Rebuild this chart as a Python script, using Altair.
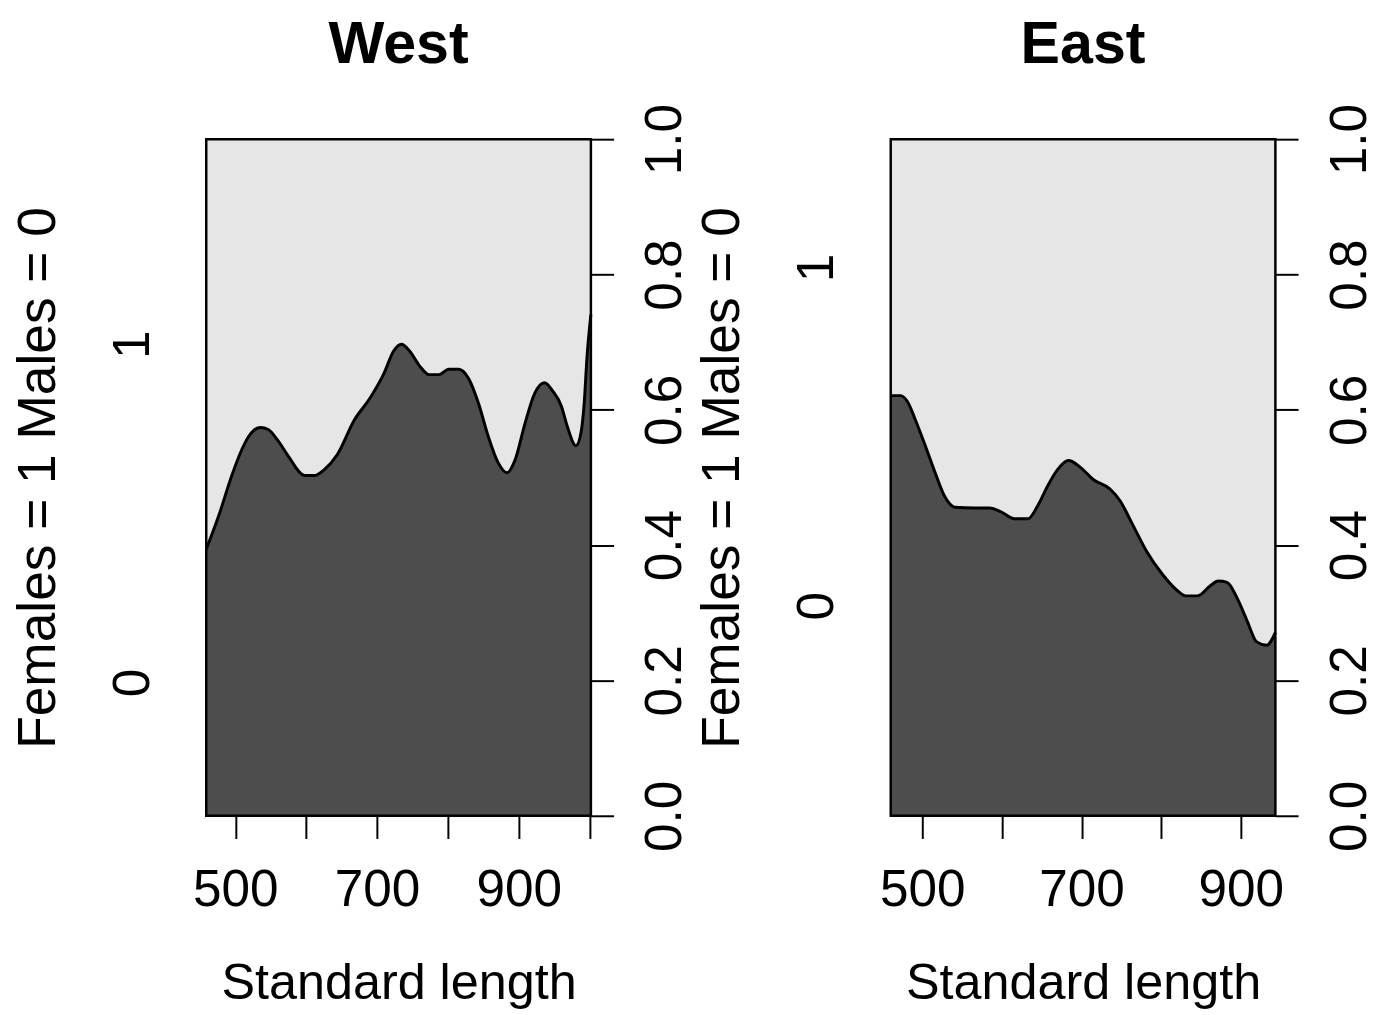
import altair as alt
import pandas as pd

# ---- data (conditional density of the "0" class) ----
west_len = [458.9, 477, 495, 509, 519, 535.5, 546.5, 560.5, 574.5, 598, 612, 626, 644, 668,
            690, 709.5, 723.5, 734.5, 746, 760, 773.5, 787.5, 801.5, 815.5, 829.5, 843.5,
            857, 871, 883.5, 895, 909, 922.5, 936.5, 948, 960.5, 968.5, 981, 988, 992.5,
            996.5, 1002]
west_p = [0.394, 0.445, 0.503, 0.541, 0.561, 0.574, 0.571, 0.554, 0.532, 0.503, 0.503, 0.512,
          0.534, 0.585, 0.617, 0.653, 0.687, 0.697, 0.687, 0.665, 0.652, 0.652, 0.660, 0.660,
          0.646, 0.609, 0.561, 0.522, 0.507, 0.526, 0.580, 0.624, 0.640, 0.628, 0.605, 0.576,
          0.547, 0.566, 0.609, 0.678, 0.741]
east_len = [460.3, 472.7, 481.4, 491.3, 503.7, 516.1, 528.5, 540.9, 565.8, 584.4, 599.3, 615.4,
            632.8, 645.2, 657.6, 670.0, 683.6, 698.5, 714.6, 735.7, 748.1, 764.3, 781.6, 801.5,
            818.2, 830.8, 845.5, 861.7, 871.6, 882.8, 895.2, 907.6, 920.0, 932.4, 943.4]
east_p = [0.621, 0.621, 0.612, 0.585, 0.547, 0.507, 0.471, 0.456, 0.455, 0.455, 0.449, 0.439,
          0.439, 0.459, 0.488, 0.512, 0.525, 0.515, 0.497, 0.483, 0.466, 0.430, 0.391, 0.357,
          0.335, 0.325, 0.325, 0.340, 0.347, 0.345, 0.322, 0.289, 0.257, 0.252, 0.271]

west_domain = [458.9, 1002]
east_domain = [460.3, 943.4]
west_ticks = [500, 600, 700, 800, 900, 1000]
east_ticks = [500, 600, 700, 800, 900]
right_ticks = [0.0, 0.2, 0.4, 0.6, 0.8, 1.0]
panel_titles = ["West", "East"]
x_title = "Standard length"
y_title = "Females = 1 Males = 0"
category_labels = ["0", "1"]

FONT = "Liberation Sans"
W, H = 390, 686
DARK = "#4d4d4d"
LIGHT = "#e6e6e6"
LFS = 52      # tick label size
XTFS = 51     # x title size
YTFS = 54     # y title size


def panel(name, lens, ps, domain, xticks):
    df = pd.DataFrame({"len": lens, "p": ps})
    p0 = ps[0]
    lab0, lab1 = p0 / 2, (1 + p0) / 2
    mid = (lab0 + lab1) / 2
    xenc = alt.X(
        "len:Q",
        scale=alt.Scale(domain=domain, nice=False, zero=False),
        axis=alt.Axis(
            values=xticks,
            labelExpr="datum.value % 200 == 100 ? datum.label : ''",
            title=x_title,
            grid=False,
            domain=False,
            ticks=True,
            tickSize=23,
            tickWidth=2,
            tickColor="black",
            labelPadding=27,
            labelFontSize=LFS,
            labelBaseline="top",
            labelAlign="center",
            labelFlush=False,
            labelOverlap=False,
            titleFontSize=XTFS,
            titleFontWeight="normal",
            titleBaseline="top",
            titlePadding=45.5,
            minExtent=100,
            maxExtent=100,
        ),
    )
    yleft = alt.Y(
        "p:Q",
        scale=alt.Scale(domain=[0, 1], nice=False, zero=True),
        axis=alt.Axis(
            orient="left",
            values=[lab0, lab1],
            labelExpr=f"datum.value < {mid} ? '{category_labels[0]}' : '{category_labels[1]}'",
            title=y_title,
            grid=False,
            domain=False,
            ticks=False,
            labelAngle=270,
            labelAlign="center",
            labelBaseline="bottom",
            labelPadding=48,
            labelFontSize=LFS,
            labelFlush=False,
            labelOverlap=False,
            titleFontSize=YTFS,
            titleFontWeight="normal",
            titleAngle=270,
            titleAlign="center",
            titleBaseline="bottom",
            titlePadding=43.3,
            minExtent=100,
            maxExtent=100,
        ),
    )
    area = alt.Chart(df).mark_area(color=DARK, opacity=1, interpolate="monotone").encode(
        x=xenc, y=yleft
    )
    curve = alt.Chart(df).mark_line(color="black", strokeWidth=3, interpolate="monotone").encode(
        x=xenc, y=yleft
    )
    right = alt.Chart(df).mark_line(opacity=0).encode(
        x=xenc,
        y=alt.Y(
            "p:Q",
            scale=alt.Scale(domain=[0, 1], nice=False, zero=True),
            axis=alt.Axis(
                orient="right",
                values=right_ticks,
                format=".1f",
                title=None,
                grid=False,
                domain=False,
                ticks=True,
                tickSize=23,
                tickWidth=2,
                tickColor="black",
                labelAngle=270,
                labelAlign="center",
                labelBaseline="top",
                labelPadding=27,
                labelFontSize=LFS,
                labelFlush=False,
                labelOverlap=False,
            ),
        ),
    )
    frame = alt.Chart(pd.DataFrame({"f": [0]})).mark_rect(
        filled=False, stroke="black", strokeWidth=2.5
    ).encode(x=alt.value(0), x2=alt.value(W), y=alt.value(0), y2=alt.value(H))

    return alt.layer(alt.layer(area, curve), right, frame).resolve_scale(y="independent").properties(
        width=W,
        height=H,
        title=alt.TitleParams(
            name, fontSize=60, fontWeight="bold", font=FONT, anchor="middle",
            frame="group", baseline="alphabetic", offset=-19, color="black",
        ),
    )


west = panel(panel_titles[0], west_len, west_p, west_domain, west_ticks)
east = panel(panel_titles[1], east_len, east_p, east_domain, east_ticks)

chart = alt.hconcat(west, east, spacing=5).properties(
    padding={"left": 3, "top": 0, "right": 0, "bottom": 0}
).configure_view(fill=LIGHT, stroke=None).configure_axis(
    labelFont=FONT, titleFont=FONT, labelColor="black", titleColor="black"
)

chart.save("out.html", embed_options={"renderer": "svg", "actions": False})
